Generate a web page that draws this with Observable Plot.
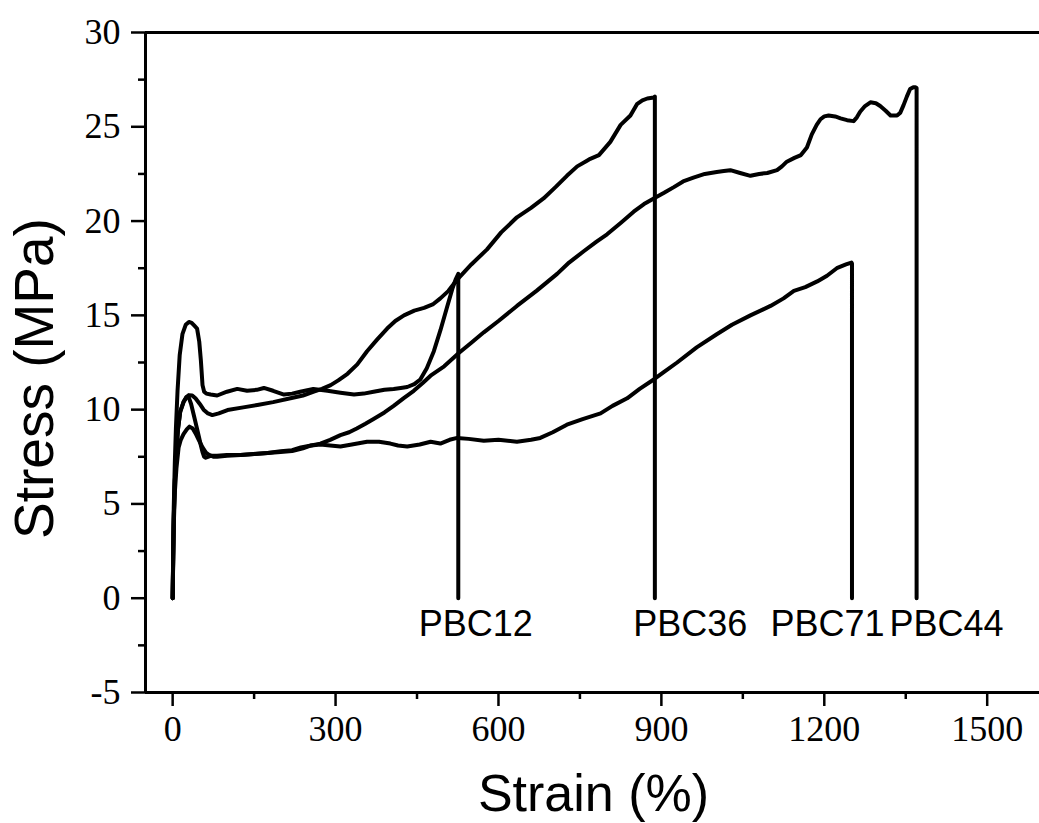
<!DOCTYPE html>
<html>
<head>
<meta charset="utf-8">
<script src="https://cdn.jsdelivr.net/npm/d3@7"></script>
<script src="https://cdn.jsdelivr.net/npm/@observablehq/plot@0.6"></script>
<style>
  html, body { margin: 0; padding: 0; background: #fff; overflow: hidden; }
</style>
</head>
<body>
<div id="chart"></div>
<script>
// ---- Data ----
const seriesNames = ["PBC12", "PBC36", "PBC44", "PBC71"];

const pbc12Strain = [0, 1, 2, 4, 6, 9, 13, 18, 24, 30, 35, 40, 45, 49, 52, 55, 58, 62, 70, 82, 100, 119, 137, 155, 168, 185, 205, 220, 235, 259, 285, 309, 334, 352, 370, 390, 407, 420, 432, 445, 456, 468, 481, 493, 505, 515, 521, 526, 526];
const pbc12Stress = [0, 2.5, 4.8, 7.2, 9.0, 11.0, 12.9, 14.0, 14.5, 14.65, 14.6, 14.45, 14.3, 13.6, 12.6, 11.3, 10.95, 10.85, 10.8, 10.75, 10.95, 11.1, 11.0, 11.05, 11.15, 11.0, 10.8, 10.85, 10.95, 11.1, 11.0, 10.9, 10.8, 10.85, 10.95, 11.05, 11.1, 11.15, 11.2, 11.35, 11.6, 12.2, 13.1, 14.2, 15.4, 16.4, 16.9, 17.2, 0];

const pbc36Strain = [0, 1, 2, 4, 7, 10, 14, 20, 25, 30, 36, 42, 50, 57, 65, 73, 85, 101, 130, 156, 185, 217, 240, 260, 275, 291, 305, 322, 340, 358, 376, 395, 410, 426, 445, 463, 480, 493, 508, 524, 550, 579, 605, 634, 660, 683, 705, 726, 745, 763, 769, 785, 806, 825, 843, 855, 865, 874, 886, 888, 888];
const pbc36Stress = [0, 2.2, 4.2, 6.2, 7.9, 9.0, 9.9, 10.4, 10.65, 10.77, 10.75, 10.6, 10.3, 10.0, 9.8, 9.71, 9.8, 9.98, 10.12, 10.25, 10.4, 10.6, 10.75, 10.95, 11.1, 11.3, 11.55, 11.9, 12.4, 13.1, 13.7, 14.3, 14.7, 15.0, 15.25, 15.4, 15.6, 15.9, 16.3, 16.9, 17.7, 18.5, 19.4, 20.2, 20.7, 21.2, 21.8, 22.4, 22.9, 23.2, 23.3, 23.5, 24.2, 25.1, 25.6, 26.2, 26.4, 26.5, 26.55, 26.6, 0];

const pbc44Strain = [0, 1, 2, 4, 7, 10, 14, 20, 25, 29, 34, 39, 44, 48, 52, 55, 58, 61, 70, 82, 100, 125, 150, 175, 199, 220, 236, 255, 272, 290, 309, 325, 339, 355, 370, 390, 407, 425, 444, 460, 475, 500, 527, 550, 573, 600, 634, 670, 708, 730, 757, 780, 800, 825, 849, 868, 886, 905, 923, 940, 959, 980, 1002, 1015, 1027, 1045, 1064, 1080, 1095, 1113, 1122, 1131, 1145, 1157, 1168, 1177, 1186, 1193, 1200, 1208, 1220, 1230, 1242, 1254, 1260, 1266, 1275, 1285, 1295, 1303, 1313, 1322, 1334, 1340, 1346, 1352, 1358, 1364, 1368, 1370, 1370];
const pbc44Stress = [0, 2.2, 4.2, 6.2, 7.9, 9.0, 9.9, 10.4, 10.65, 10.7, 10.3, 9.7, 9.1, 8.6, 8.1, 7.75, 7.5, 7.45, 7.55, 7.55, 7.6, 7.6, 7.65, 7.7, 7.8, 7.85, 8.0, 8.1, 8.2, 8.4, 8.65, 8.8, 9.0, 9.25, 9.5, 9.85, 10.2, 10.6, 11.0, 11.4, 11.8, 12.3, 13.0, 13.55, 14.1, 14.7, 15.5, 16.3, 17.2, 17.8, 18.4, 18.9, 19.3, 19.9, 20.5, 20.9, 21.2, 21.5, 21.8, 22.1, 22.3, 22.5, 22.6, 22.65, 22.7, 22.55, 22.4, 22.5, 22.55, 22.7, 22.9, 23.15, 23.35, 23.5, 23.9, 24.6, 25.1, 25.4, 25.55, 25.6, 25.55, 25.45, 25.35, 25.3, 25.5, 25.8, 26.1, 26.3, 26.25, 26.1, 25.85, 25.6, 25.6, 25.75, 26.15, 26.6, 27.0, 27.1, 27.1, 27.05, 0];

const pbc71Strain = [0, 1, 2, 4, 7, 11, 15, 20, 26, 31, 37, 42, 48, 55, 62, 67, 75, 82, 100, 125, 150, 175, 199, 220, 240, 255, 272, 290, 309, 330, 358, 380, 401, 415, 432, 455, 475, 493, 510, 524, 545, 573, 600, 634, 660, 677, 700, 726, 755, 788, 810, 837, 860, 886, 905, 929, 965, 1002, 1030, 1064, 1101, 1125, 1144, 1165, 1187, 1205, 1223, 1240, 1250, 1251, 1251];
const pbc71Stress = [0, 2.0, 3.8, 5.6, 6.9, 8.0, 8.4, 8.7, 8.95, 9.1, 9.0, 8.75, 8.4, 8.0, 7.7, 7.6, 7.5, 7.5, 7.55, 7.6, 7.65, 7.7, 7.75, 7.8, 7.95, 8.1, 8.15, 8.1, 8.05, 8.15, 8.3, 8.3, 8.2, 8.1, 8.05, 8.15, 8.3, 8.2, 8.4, 8.5, 8.45, 8.35, 8.4, 8.3, 8.4, 8.5, 8.8, 9.2, 9.5, 9.8, 10.2, 10.6, 11.1, 11.6, 12.0, 12.5, 13.3, 14.0, 14.5, 15.0, 15.5, 15.9, 16.3, 16.5, 16.8, 17.1, 17.5, 17.7, 17.8, 17.75, 0];

// Annotation labels (data coordinates)
const labelNames = ["PBC12", "PBC36", "PBC71", "PBC44"];
const labelStrain = [558, 953, 1206, 1425];
const labelStress = [-1.4, -1.4, -1.4, -1.4];

// Axis ticks
const xMajorTicks = [0, 300, 600, 900, 1200, 1500];
const xMinorTicks = [150, 450, 750, 1050, 1350];
const yMajorTicks = [-5, 0, 5, 10, 15, 20, 25, 30];
const yMinorTicks = [-2.5, 2.5, 7.5, 12.5, 17.5, 22.5, 27.5];

const xTitle = "Strain (%)";
const yTitle = "Stress (MPa)";

// ---- Build table ----
const rows = [];
function addSeries(name, xs, ys) {
  xs.forEach((x, i) => rows.push({ series: name, strain: x, stress: ys[i] }));
}
addSeries(seriesNames[0], pbc12Strain, pbc12Stress);
addSeries(seriesNames[1], pbc36Strain, pbc36Stress);
addSeries(seriesNames[2], pbc44Strain, pbc44Stress);
addSeries(seriesNames[3], pbc71Strain, pbc71Stress);

const serif = "'Liberation Serif', 'Times New Roman', serif";
const sans = "'Liberation Sans', Arial, sans-serif";

const chart = Plot.plot({
  width: 1039,
  height: 823,
  marginLeft: 145,
  marginRight: -2,
  marginTop: 32,
  marginBottom: 131,
  x: { domain: [-50, 1600] },
  y: { domain: [-5, 30] },
  style: { background: "#fff", color: "#000", fontFamily: serif, overflow: "hidden" },
  marks: [
    Plot.line(rows, {
      x: "strain", y: "stress", z: "series",
      stroke: "#000", strokeWidth: 4,
      strokeLinejoin: "round", strokeLinecap: "round"
    }),
    Plot.ruleX([-50], { stroke: "#000", strokeWidth: 3 }),
    Plot.ruleY([-5, 30], { stroke: "#000", strokeWidth: 3 }),
    Plot.axisX(xMajorTicks, {
      tickSize: 14, tickPadding: 9, strokeWidth: 2.5,
      fontSize: 36, fontFamily: serif, tickFormat: d => String(d), label: null
    }),
    Plot.axisX(xMinorTicks, { tickSize: 7, strokeWidth: 2.5, fill: "none", label: null }),
    Plot.axisY(yMajorTicks, {
      tickSize: 14, tickPadding: 11, strokeWidth: 2.5,
      fontSize: 36, fontFamily: serif, tickFormat: d => String(d), label: null
    }),
    Plot.axisY(yMinorTicks, { tickSize: 7, strokeWidth: 2.5, fill: "none", label: null }),
    Plot.text(labelNames, {
      x: labelStrain, y: labelStress, text: d => d,
      fontSize: 36, fontFamily: sans, fill: "#000"
    }),
    Plot.text([yTitle], {
      frameAnchor: "left", textAnchor: "middle", lineAnchor: "middle",
      rotate: -90, dx: -110, dy: 16,
      fontSize: 55, fontFamily: sans, fill: "#000"
    }),
    Plot.text([xTitle], {
      frameAnchor: "bottom", textAnchor: "middle", lineAnchor: "middle", dy: 102,
      fontSize: 52, fontFamily: sans, fill: "#000"
    })
  ]
});

document.getElementById("chart").appendChild(chart);
</script>
</body>
</html>
